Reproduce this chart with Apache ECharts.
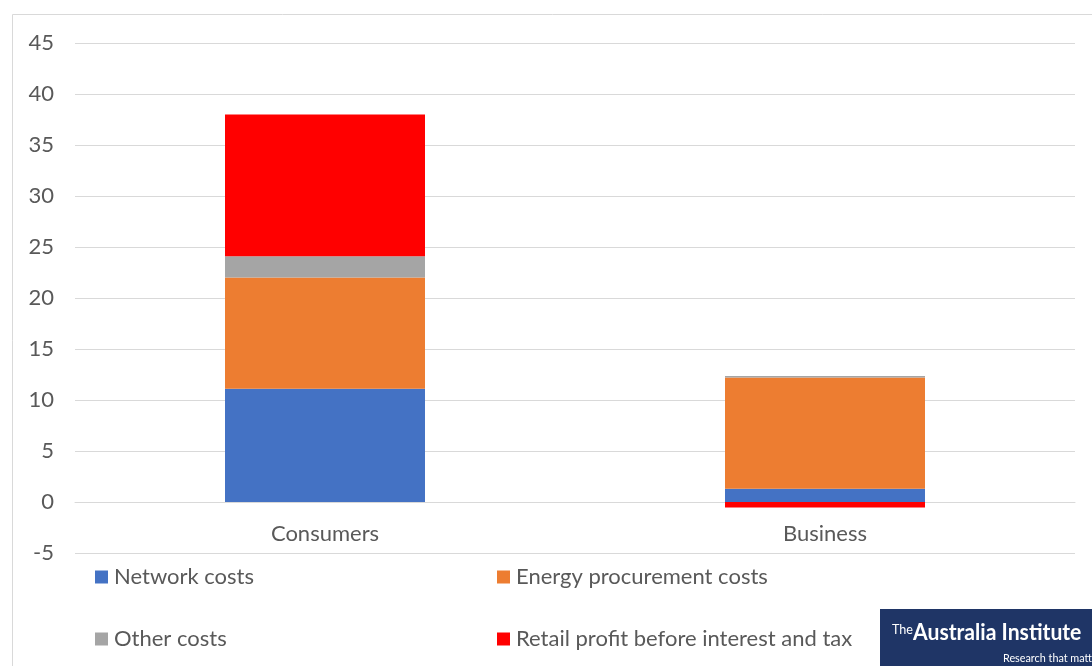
<!DOCTYPE html>
<html>
<head>
<meta charset="utf-8">
<script src="https://cdn.jsdelivr.net/npm/echarts@6/dist/echarts.min.js"></script>
<style>html,body{margin:0;padding:0;background:#fff}#c{width:1092px;height:666px}</style>
</head>
<body>
<div id="c"></div>
<script>
const categories = ['Consumers', 'Business'];
const networkCosts = [11.1, 1.3];
const energyCosts = [10.9, 10.9];
const otherCosts = [2.1, 0.15];
const retailProfit = [13.9, -0.55];
const seriesNames = ['Network costs', 'Energy procurement costs', 'Other costs', 'Retail profit before interest and tax'];
const seriesColors = ['#4472c4', '#ed7d31', '#a5a5a5', '#ff0000'];
const seriesData = [networkCosts, energyCosts, otherCosts, retailProfit];

const FONT = 'Lato, "Open Sans", sans-serif';
const chart = echarts.init(document.getElementById('c'));
const legendPos = [[95, 566], [497, 566], [95, 628], [497, 628]];
chart.setOption({
  animation: false,
  grid: { left: 75, right: 17, top: 43, bottom: 113 },
  xAxis: {
    type: 'category', data: categories,
    axisLine: { onZero: true, lineStyle: { color: '#d9d9d9', width: 1 } },
    axisTick: { show: false },
    axisLabel: { color: '#595959', fontSize: 22, fontFamily: FONT, margin: -30 }
  },
  yAxis: {
    type: 'value', min: -5, max: 45, interval: 5,
    axisLine: { show: false }, axisTick: { show: false },
    splitLine: { lineStyle: { color: '#d9d9d9', width: 1 } },
    axisLabel: { color: '#595959', fontSize: 22, fontFamily: FONT, margin: 21 }
  },
  legend: seriesNames.map((n, i) => ({
    data: [n], left: legendPos[i][0], top: legendPos[i][1],
    itemWidth: 13, itemHeight: 13, itemGap: 0, padding: 0, icon: 'rect',
    textStyle: { color: '#595959', fontSize: 22, fontFamily: FONT, padding: [0, 0, 0, 1] }
  })),
  series: seriesNames.map((n, i) => ({
    name: n, type: 'bar', stack: 'total', data: seriesData[i],
    barWidth: '40%', itemStyle: { color: seriesColors[i] }
  })),
  graphic: [
    { type: 'rect', shape: { x: 12.5, y: 14.5, width: 1200, height: 800 }, style: { fill: 'none', stroke: '#d9d9d9', lineWidth: 1 }, silent: true },
    { type: 'rect', shape: { x: 880, y: 609, width: 212, height: 57 }, style: { fill: '#1f3566' } },
    { type: 'text', x: 892, y: 622, scaleX: 0.9, style: { text: 'The', fill: '#fff', font: '14px Lato, sans-serif' } },
    { type: 'text', x: 913, y: 621, scaleX: 0.92, style: { text: 'Australia Institute', fill: '#fff', font: 'bold 23px Lato, sans-serif' } },
    { type: 'text', x: 1003, y: 652, scaleX: 0.9, style: { text: 'Research that matters', fill: '#fff', font: '12px Lato, sans-serif' } }
  ]
});
</script>
</body>
</html>
